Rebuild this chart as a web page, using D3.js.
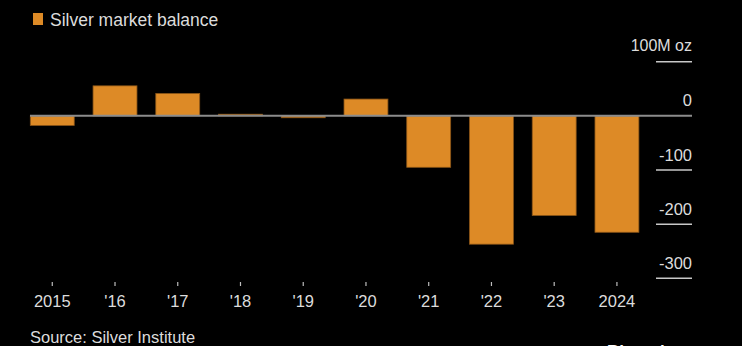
<!DOCTYPE html>
<html><head><meta charset="utf-8">
<script src="https://cdn.jsdelivr.net/npm/d3@7"></script>
<style>html,body{margin:0;padding:0;background:#000;}svg{display:block;}</style>
</head><body>
<script>
const years = ["2015","'16","'17","'18","'19","'20","'21","'22","'23","2024"];
const balance = [-17.7, 55.4, 41.3, 3, -3.5, 31, -95, -237, -184, -215];
const yTicks = [0, -100, -200, -300];
const unitLabel = "100M oz";
const unitTickValue = 100;
const legendLabel = "Silver market balance";
const sourceLabel = "Source: Silver Institute";

const W = 742, H = 346;
const font = "'Liberation Sans', Arial, sans-serif";
const textColor = "#dcdcdc";
const barColor = "#dd8a26";

const svg = d3.select("body").append("svg").attr("width", W).attr("height", H)
  .style("background", "#000");

const x = d3.scaleBand().domain(years).range([20.9, 648.3]).paddingInner(0.3).paddingOuter(0.15);
const y = d3.scaleLinear().domain([100, -300]).range([61.7, 278.3]);

// Legend
svg.append("rect").attr("x", 33).attr("y", 13).attr("width", 10).attr("height", 12).attr("fill", barColor);
svg.append("text").attr("x", 50).attr("y", 26).text(legendLabel)
  .attr("font-family", font).attr("font-size", 17.5).attr("fill", textColor);

// Right axis tick lines and labels
const tickX0 = 656, tickX1 = 692;
const allTicks = [unitTickValue].concat(yTicks);
svg.append("g").selectAll("line").data(allTicks).join("line")
  .attr("x1", tickX0).attr("x2", tickX1)
  .attr("y1", d => y(d)).attr("y2", d => y(d))
  .attr("stroke", d => d === 0 ? "none" : "#c8c8c8").attr("stroke-width", 1.5);
svg.append("g").selectAll("text").data(yTicks).join("text")
  .attr("x", tickX1).attr("y", d => y(d) - 9.5)
  .attr("text-anchor", "end").text(d => String(d))
  .attr("font-family", font).attr("font-size", 16.5).attr("fill", textColor);
svg.append("text").attr("x", tickX1).attr("y", y(unitTickValue) - 10.5)
  .attr("text-anchor", "end").text(unitLabel)
  .attr("font-family", font).attr("font-size", 16).attr("fill", textColor);

// Bars
svg.append("g").selectAll("rect").data(years).join("rect")
  .attr("x", d => x(d))
  .attr("width", x.bandwidth())
  .attr("y", (d, i) => y(Math.max(0, balance[i])))
  .attr("height", (d, i) => Math.abs(y(balance[i]) - y(0)))
  .attr("fill", barColor)
  .attr("stroke", "#8a5518").attr("stroke-width", 0.8);

// Zero line
svg.append("line").attr("x1", 30).attr("x2", tickX1)
  .attr("y1", y(0)).attr("y2", y(0))
  .attr("stroke", "#8c8c8c").attr("stroke-width", 2);

// X axis
const xAxis = d3.axisBottom(x).tickSize(4).tickPadding(9);
const gx = svg.append("g").attr("transform", "translate(0,282)").call(xAxis);
gx.select(".domain").remove();
gx.selectAll(".tick line").attr("stroke", "#bdbdbd").attr("stroke-width", 1.2);
gx.selectAll(".tick text").attr("font-family", font).attr("font-size", 16.5)
  .attr("fill", textColor);

// Source
svg.append("text").attr("x", 30).attr("y", 343).text(sourceLabel)
  .attr("font-family", font).attr("font-size", 16.5).attr("fill", textColor);

// Bloomberg (clipped at bottom, as in the reference)
svg.append("text").attr("x", 607).attr("y", 357).text("Bloomberg")
  .attr("font-family", font).attr("font-size", 17).attr("font-weight", "bold").attr("fill", "#ffffff");
</script>
</body></html>
